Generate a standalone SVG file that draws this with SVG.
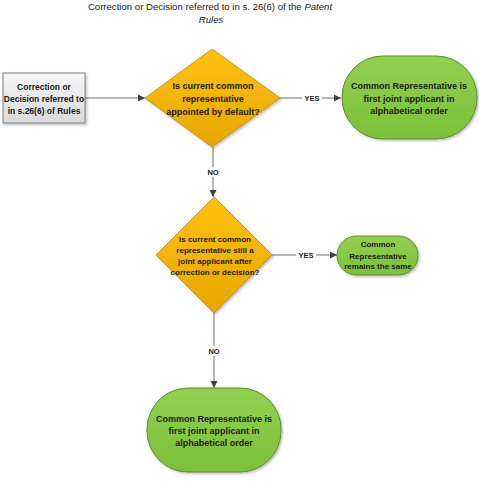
<svg xmlns="http://www.w3.org/2000/svg" width="479" height="482" viewBox="0 0 479 482">
<style>
text{font-family:"Liberation Sans",Arial,sans-serif;fill:#1a1a1a;text-anchor:middle;}
.b{font-weight:bold;}
.conn{stroke:#6e6e6e;stroke-width:1;fill:none;}
.lbl{font-size:7.5px;font-weight:bold;}
.lblbg{fill:#ffffff;}
.dia{fill:url(#gold);stroke:#b8860b;stroke-width:0.8;}
.pill{fill:url(#green);stroke:#5b8a2e;stroke-width:1;}
</style>
<defs>
<linearGradient id="gold" x1="0" y1="0" x2="0" y2="1">
<stop offset="0" stop-color="#ffc20e"/>
<stop offset="1" stop-color="#e6a600"/>
</linearGradient>
<linearGradient id="green" x1="0" y1="0" x2="0" y2="1">
<stop offset="0" stop-color="#92d050"/>
<stop offset="1" stop-color="#7cc03a"/>
</linearGradient>
<linearGradient id="grey" x1="0" y1="0" x2="0" y2="1">
<stop offset="0" stop-color="#f7f7f7"/>
<stop offset="1" stop-color="#d9d9d9"/>
</linearGradient>
<filter id="sh" x="-10%" y="-10%" width="130%" height="130%">
<feDropShadow dx="1.5" dy="1.5" stdDeviation="1.2" flood-color="#000" flood-opacity="0.25"/>
</filter>
<marker id="arr" markerWidth="8" markerHeight="8" refX="7" refY="4" orient="auto" markerUnits="userSpaceOnUse">
<path d="M0,0.5 L7,4 L0,7.5 Z" fill="#3f3f3f"/>
</marker>
</defs>

<g id="title">
<text x="210" y="10" style="font-size:9.6px">Correction or Decision referred to in s. 26(6) of the <tspan font-style="italic">Patent</tspan></text>
<text x="211" y="23" style="font-size:9.6px;font-style:italic">Rules</text>
</g>

<g id="connectors">
<line class="conn" x1="85" y1="98" x2="145" y2="98" marker-end="url(#arr)"/>
<line class="conn" x1="280" y1="98" x2="341" y2="98" marker-end="url(#arr)"/>
<rect class="lblbg" x="302" y="93" width="20" height="10"/>
<text class="lbl" x="312" y="101">YES</text>
<line class="conn" x1="213" y1="147" x2="213" y2="197" marker-end="url(#arr)"/>
<rect class="lblbg" x="205" y="167" width="16" height="10"/>
<text class="lbl" x="213" y="175">NO</text>
<line class="conn" x1="272" y1="255" x2="337" y2="255" marker-end="url(#arr)"/>
<rect class="lblbg" x="296" y="250" width="20" height="10"/>
<text class="lbl" x="306" y="258">YES</text>
<line class="conn" x1="214" y1="313" x2="214" y2="388" marker-end="url(#arr)"/>
<rect class="lblbg" x="206" y="346" width="16" height="10"/>
<text class="lbl" x="214" y="354">NO</text>
</g>

<g id="start">
<rect x="3" y="73" width="82" height="50" fill="url(#grey)" stroke="#7f7f7f" stroke-width="1" filter="url(#sh)"/>
<text class="b" x="44" y="90" style="font-size:8.5px">Correction or</text>
<text class="b" x="44" y="102" style="font-size:8.5px">Decision referred to</text>
<text class="b" x="44" y="114" style="font-size:8.5px">in s.26(6) of Rules</text>
</g>

<g id="decision1">
<polygon class="dia" points="212,49 280,98 212,147 145,98" filter="url(#sh)"/>
<text class="b" x="213" y="89" style="font-size:9px">Is current common</text>
<text class="b" x="213" y="102" style="font-size:9px">representative</text>
<text class="b" x="213" y="115" style="font-size:9px">appointed by default?</text>
</g>

<g id="result1">
<rect class="pill" x="342" y="56" width="135" height="83" rx="41" ry="41" filter="url(#sh)"/>
<text class="b" x="409" y="89" style="font-size:9px">Common Representative is</text>
<text class="b" x="409" y="102" style="font-size:9px">first joint applicant in</text>
<text class="b" x="409" y="114" style="font-size:9px">alphabetical order</text>
</g>

<g id="decision2">
<polygon class="dia" points="214,197 272,255 214,313 156,255" filter="url(#sh)"/>
<text class="b" x="215" y="242" style="font-size:8px">Is current common</text>
<text class="b" x="215" y="253" style="font-size:8px">representative still a</text>
<text class="b" x="215" y="264" style="font-size:8px">joint applicant after</text>
<text class="b" x="215" y="275" style="font-size:8px">correction or decision?</text>
</g>

<g id="result2">
<rect class="pill" x="337" y="236" width="81" height="39" rx="19.5" ry="19.5" filter="url(#sh)"/>
<text class="b" x="378" y="247" style="font-size:8px">Common</text>
<text class="b" x="378" y="258.5" style="font-size:8px">Representative</text>
<text class="b" x="378" y="269" style="font-size:8px">remains the same</text>
</g>

<g id="result3">
<rect class="pill" x="147" y="388" width="134" height="84" rx="41" ry="41" filter="url(#sh)"/>
<text class="b" x="214" y="422" style="font-size:9px">Common Representative is</text>
<text class="b" x="214" y="434" style="font-size:9px">first joint applicant in</text>
<text class="b" x="214" y="446" style="font-size:9px">alphabetical order</text>
</g>
</svg>
